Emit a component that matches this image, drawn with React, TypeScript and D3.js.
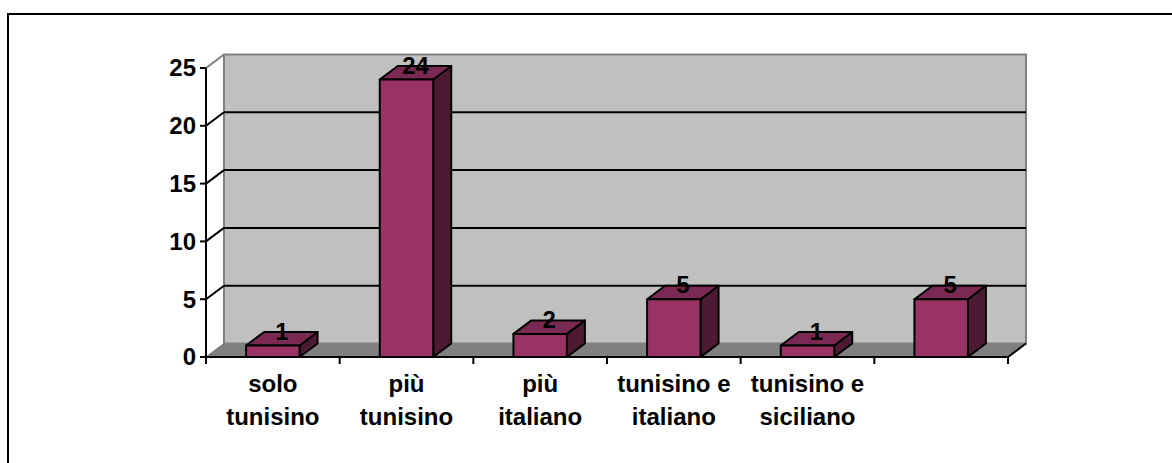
import { scaleBand, scaleLinear } from "d3";

const categories = [
  ["solo", "tunisino"],
  ["più", "tunisino"],
  ["più", "italiano"],
  ["tunisino e", "italiano"],
  ["tunisino e", "siciliano"],
  [],
];
const values = [1, 24, 2, 5, 1, 5];
const yTickValues = [0, 5, 10, 15, 20, 25];

const FONT = "Arial, 'Liberation Sans', Helvetica, sans-serif";

export default function App() {
  const left = 206;
  const right = 1008;
  const floorY = 357;
  const topY = 68;
  // 3d depth offset of the back wall
  const dx = 18;
  const dy = 13.5;

  const keys = categories.map((_, i) => String(i));
  const xScale = scaleBand<string>().domain(keys).range([left, right]);
  const yScale = scaleLinear().domain([0, 25]).range([floorY, topY]);

  const bw = xScale.bandwidth();
  const barW = bw * 0.4;

  const bars = values.map((v, i) => {
    const cx = (xScale(String(i)) ?? 0) + bw / 2;
    const x0 = cx - barW / 2;
    const x1 = cx + barW / 2;
    const yt = yScale(v);
    const yb = yScale(0);
    return { v, cx, x0, x1, yt, yb };
  });

  const boundaries = [...keys.map((k) => xScale(k) ?? 0), right];

  return (
    <svg
      width={1172}
      height={463}
      style={{ position: "absolute", left: 0, top: 0, display: "block" }}
    >
      <rect x={0} y={0} width={1172} height={463} fill="#fff" />
      <rect x={8} y={14} width={1170} height={460} fill="none" stroke="#000" strokeWidth={2} />

      {/* back wall */}
      <rect
        x={left + dx}
        y={topY - dy}
        width={right - left}
        height={floorY - topY}
        fill="#c0c0c0"
        stroke="#808080"
        strokeWidth={2}
      />
      {/* floor */}
      <polygon
        points={`${left},${floorY} ${right},${floorY} ${right + dx},${floorY - dy} ${left + dx},${floorY - dy}`}
        fill="#808080"
      />
      <line x1={left} y1={topY} x2={left + dx} y2={topY - dy} stroke="#808080" strokeWidth={2} />
      <line x1={left} y1={floorY} x2={left + dx} y2={floorY - dy} stroke="#6a6a6a" strokeWidth={1} />

      {/* gridlines */}
      {yTickValues
        .filter((t) => t > 0 && t < 25)
        .map((t) => {
          const y = yScale(t);
          return (
            <g key={`g-${t}`}>
              <line x1={left} y1={y} x2={left + dx} y2={y - dy} stroke="#000" strokeWidth={2} />
              <line x1={left + dx} y1={y - dy} x2={right + dx} y2={y - dy} stroke="#000" strokeWidth={2} />
            </g>
          );
        })}

      {/* y axis */}
      <line x1={left} y1={topY} x2={left} y2={floorY + 6} stroke="#000" strokeWidth={2} />
      {yTickValues.map((t) => {
        const y = yScale(t);
        return (
          <g key={`yt-${t}`}>
            <line x1={left - 6} y1={y} x2={left} y2={y} stroke="#000" strokeWidth={2} />
            <text
              x={left - 10}
              y={y}
              dy="0.35em"
              textAnchor="end"
              fontFamily={FONT}
              fontWeight="bold"
              fontSize={24}
            >
              {t}
            </text>
          </g>
        );
      })}

      {/* x axis */}
      <line x1={left} y1={floorY} x2={right} y2={floorY} stroke="#000" strokeWidth={2} />
      <line x1={right} y1={floorY} x2={right + dx} y2={floorY - dy} stroke="#000" strokeWidth={2} />
      {boundaries.map((b, i) => (
        <line key={`xt-${i}`} x1={b} y1={floorY} x2={b} y2={floorY + 7} stroke="#000" strokeWidth={2} />
      ))}

      {/* bars */}
      {bars.map((b, i) => (
        <g key={`bar-${i}`} stroke="#000" strokeWidth={2} strokeLinejoin="round">
          <polygon
            points={`${b.x1},${b.yt} ${b.x1 + dx},${b.yt - dy} ${b.x1 + dx},${b.yb - dy} ${b.x1},${b.yb}`}
            fill="#4d1a33"
          />
          <polygon
            points={`${b.x0},${b.yt} ${b.x0 + dx},${b.yt - dy} ${b.x1 + dx},${b.yt - dy} ${b.x1},${b.yt}`}
            fill="#7a2952"
          />
          <rect x={b.x0} y={b.yt} width={barW} height={b.yb - b.yt} fill="#993366" />
        </g>
      ))}

      {/* value labels */}
      {bars.map((b, i) => (
        <text
          key={`vl-${i}`}
          x={b.cx + dx / 2}
          y={b.yt - dy / 2 + 1}
          textAnchor="middle"
          fontFamily={FONT}
          fontWeight="bold"
          fontSize={24}
        >
          {b.v}
        </text>
      ))}

      {/* category labels */}
      {categories.map((lines, i) => (
        <text
          key={`cl-${i}`}
          textAnchor="middle"
          fontFamily={FONT}
          fontWeight="bold"
          fontSize={24}
        >
          {lines.map((ln, j) => (
            <tspan key={j} x={(xScale(String(i)) ?? 0) + bw / 2} y={392 + j * 33}>
              {ln}
            </tspan>
          ))}
        </text>
      ))}
    </svg>
  );
}
